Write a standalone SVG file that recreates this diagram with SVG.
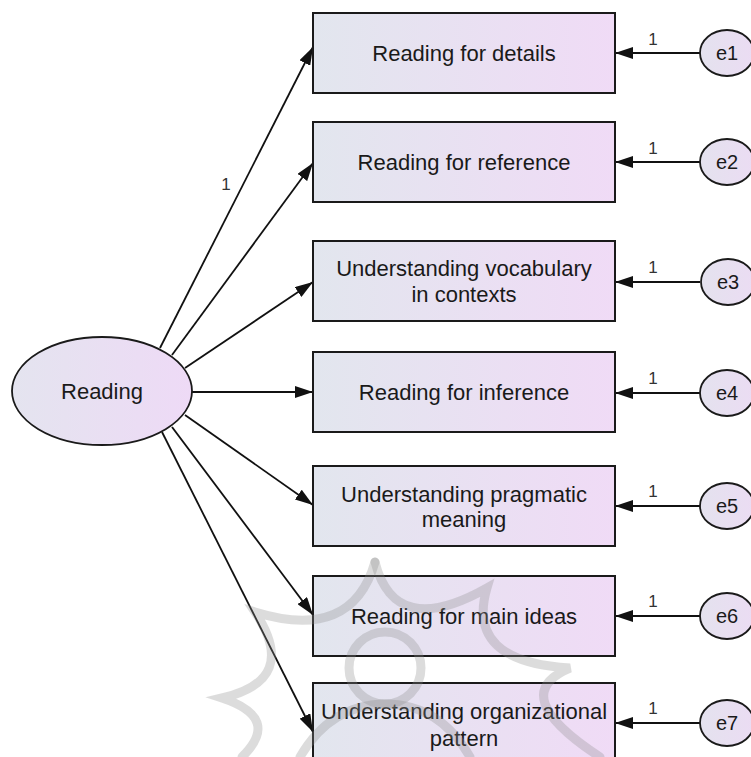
<svg xmlns="http://www.w3.org/2000/svg" width="751" height="757" viewBox="0 0 751 757">
  <defs>
    <linearGradient id="boxFill" x1="0" y1="0" x2="1" y2="0">
      <stop offset="0" stop-color="#e2e6ee"/>
      <stop offset="1" stop-color="#f0dbf6"/>
    </linearGradient>
    <linearGradient id="latentFill" x1="0" y1="0" x2="1" y2="0">
      <stop offset="0" stop-color="#e4e4ef"/>
      <stop offset="1" stop-color="#eedaf6"/>
    </linearGradient>
    <linearGradient id="errFill" x1="0" y1="0" x2="1" y2="0">
      <stop offset="0" stop-color="#e4e2ee"/>
      <stop offset="1" stop-color="#ebdcf3"/>
    </linearGradient>
    <marker id="arrow" markerUnits="userSpaceOnUse" markerWidth="19" markerHeight="12" refX="18" refY="6" orient="auto">
      <path d="M0,0 L18,6 L0,12 z" fill="#111"/>
    </marker>
    <style>
      .obs { fill: url(#boxFill); stroke: #1a1a1a; stroke-width: 2; }
      .lat { fill: url(#latentFill); stroke: #1a1a1a; stroke-width: 1.8; }
      .err { fill: url(#errFill); stroke: #1a1a1a; stroke-width: 1.8; }
      .lbl { font-family: "Liberation Sans", Arial, sans-serif; font-size: 22px; fill: #1a1a1a; text-anchor: middle; }
      .elbl { font-family: "Liberation Sans", Arial, sans-serif; font-size: 20px; fill: #1a1a1a; text-anchor: middle; }
      .w { font-family: "Liberation Sans", Arial, sans-serif; font-size: 17px; fill: #333333; text-anchor: middle; }
      .path { stroke: #111; stroke-width: 1.8; fill: none; marker-end: url(#arrow); }
      .orn { fill: none; stroke: #8a8a8a; stroke-opacity: 0.3; stroke-width: 9; stroke-linecap: round; }
    </style>
  </defs>

  <rect width="751" height="757" fill="#ffffff"/>

  <!-- connectors -->
  <g id="connectors">
    <line class="path" x1="160" y1="348" x2="313" y2="47"/>
    <line class="path" x1="172" y1="355" x2="313" y2="163"/>
    <line class="path" x1="185" y1="368" x2="313" y2="282"/>
    <line class="path" x1="192" y1="392" x2="313" y2="392"/>
    <line class="path" x1="185" y1="415" x2="313" y2="505"/>
    <line class="path" x1="172" y1="427" x2="313" y2="615"/>
    <line class="path" x1="162" y1="432" x2="313" y2="732"/>
    <text class="w" x="226" y="190">1</text>

    <line class="path" x1="700" y1="53" x2="615" y2="53"/>
    <line class="path" x1="700" y1="162" x2="615" y2="162"/>
    <line class="path" x1="700" y1="282" x2="615" y2="282"/>
    <line class="path" x1="700" y1="393" x2="615" y2="393"/>
    <line class="path" x1="700" y1="506" x2="615" y2="506"/>
    <line class="path" x1="700" y1="616" x2="615" y2="616"/>
    <line class="path" x1="700" y1="723" x2="615" y2="723"/>
    <text class="w" x="653" y="45">1</text>
    <text class="w" x="653" y="154">1</text>
    <text class="w" x="653" y="273">1</text>
    <text class="w" x="653" y="384">1</text>
    <text class="w" x="653" y="497">1</text>
    <text class="w" x="653" y="607">1</text>
    <text class="w" x="653" y="714">1</text>
  </g>

  <!-- latent factor -->
  <g id="reading">
    <ellipse class="lat" cx="102" cy="391" rx="90" ry="54"/>
    <text class="lbl" x="102" y="399">Reading</text>
  </g>

  <!-- observed indicators -->
  <g id="details">
    <rect class="obs" x="313" y="13" width="302" height="80"/>
    <text class="lbl" x="464" y="61">Reading for details</text>
  </g>
  <g id="reference">
    <rect class="obs" x="313" y="122" width="302" height="80"/>
    <text class="lbl" x="464" y="170">Reading for reference</text>
  </g>
  <g id="vocabulary">
    <rect class="obs" x="313" y="241" width="302" height="80"/>
    <text class="lbl" x="464" y="276">Understanding vocabulary</text>
    <text class="lbl" x="464" y="302">in contexts</text>
  </g>
  <g id="inference">
    <rect class="obs" x="313" y="352" width="302" height="80"/>
    <text class="lbl" x="464" y="400">Reading for inference</text>
  </g>
  <g id="pragmatic">
    <rect class="obs" x="313" y="466" width="302" height="80"/>
    <text class="lbl" x="464" y="502">Understanding pragmatic</text>
    <text class="lbl" x="464" y="527">meaning</text>
  </g>
  <g id="mainideas">
    <rect class="obs" x="313" y="576" width="302" height="80"/>
    <text class="lbl" x="464" y="624">Reading for main ideas</text>
  </g>
  <g id="organization">
    <rect class="obs" x="313" y="683" width="302" height="80"/>
    <text class="lbl" x="464" y="719">Understanding organizational</text>
    <text class="lbl" x="464" y="746">pattern</text>
  </g>

  <!-- error terms -->
  <g id="e1"><ellipse class="err" cx="727" cy="53" rx="27" ry="23"/><text class="elbl" x="727" y="60">e1</text></g>
  <g id="e2"><ellipse class="err" cx="727" cy="162" rx="27" ry="23"/><text class="elbl" x="727" y="169">e2</text></g>
  <g id="e3"><ellipse class="err" cx="728" cy="282" rx="27" ry="23"/><text class="elbl" x="728" y="289">e3</text></g>
  <g id="e4"><ellipse class="err" cx="727" cy="393" rx="27" ry="23"/><text class="elbl" x="727" y="400">e4</text></g>
  <g id="e5"><ellipse class="err" cx="727" cy="506" rx="27" ry="23"/><text class="elbl" x="727" y="513">e5</text></g>
  <g id="e6"><ellipse class="err" cx="727" cy="616" rx="27" ry="23"/><text class="elbl" x="727" y="623">e6</text></g>
  <g id="e7"><ellipse class="err" cx="727" cy="723" rx="27" ry="23"/><text class="elbl" x="727" y="730">e7</text></g>

  <!-- faint translucent ornament laid over the lower part -->
  <g id="ornament">
    <path class="orn" d="M375,562 Q395,640 487,588 Q465,662 570,668 Q505,695 600,757"/>
    <path class="orn" d="M375,562 Q352,642 255,612 Q300,680 222,698 Q282,718 242,757"/>
    <circle class="orn" cx="385" cy="668" r="36"/>
    <path class="orn" d="M300,757 Q330,705 385,704 Q440,704 470,757"/>
  </g>
</svg>
